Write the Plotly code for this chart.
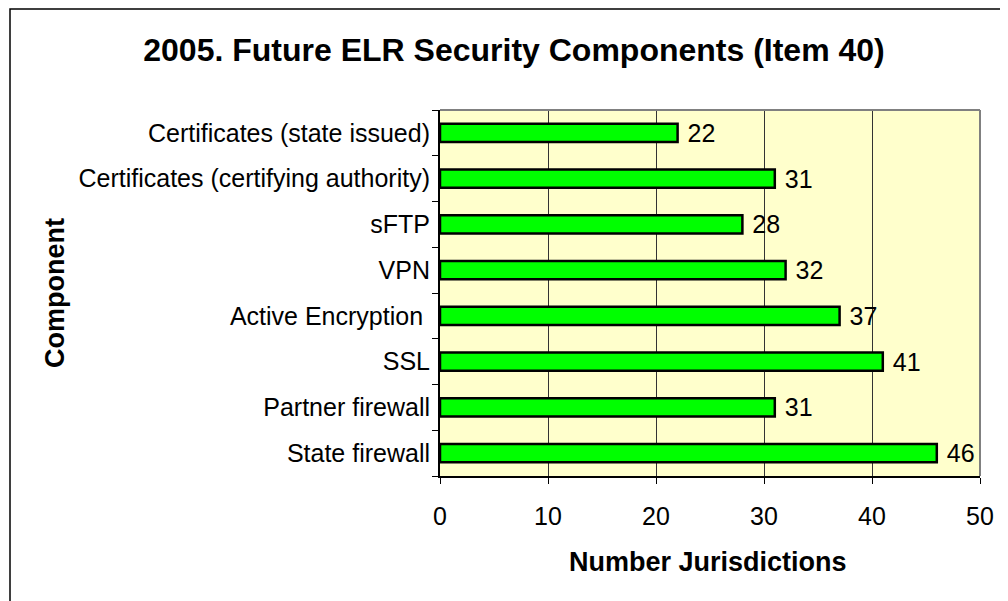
import plotly.graph_objects as go

components = ["State firewall", "Partner firewall", "SSL", "Active Encryption ",
              "VPN", "sFTP", "Certificates (certifying authority)", "Certificates (state issued)"]
jurisdictions = [46, 31, 41, 37, 32, 28, 31, 22]
x_ticks = [0, 10, 20, 30, 40, 50]

# page body has an 8px margin, so work in shifted pixel coords
OFF = 8
W, H = 1008 - OFF, 601 - OFF
L, R, T, B = 440 - OFF, 980 - OFF, 110 - OFF, 476 - OFF


def px_x(p):
    return (p - OFF - L) / (R - L)


def px_y(p):
    return (B - (p - OFF)) / (B - T)


fig = go.Figure(
    data=[go.Bar(y=components, x=jurisdictions, orientation="h",
                 marker=dict(color="#00FF00", line=dict(color="black", width=2.5)),
                 width=0.4, text=jurisdictions, texttemplate=" %{x}", textposition="outside",
                 constraintext="none",
                 textfont=dict(size=25, color="black"), cliponaxis=False)])

fig.update_layout(
    width=W, height=H,
    margin=dict(l=L, r=W - R, t=T, b=H - B),
    paper_bgcolor="white", plot_bgcolor="#FFFFCC",
    font=dict(family="Liberation Sans, Arial", color="black"),
    title=dict(text="<b>2005. Future ELR Security Components (Item 40)</b>",
               x=(514 - OFF) / W, xanchor="center", y=1 - (50 - OFF) / H, yanchor="middle",
               font=dict(size=32)),
    showlegend=False,
)
fig.update_xaxes(range=[0, 50], tickvals=x_ticks, ticks="outside", ticklen=6,
                 tickcolor="black", tickfont=dict(size=25), ticklabelstandoff=11,
                 showgrid=True, gridcolor="#333333", gridwidth=1,
                 showline=True, linecolor="black", linewidth=2, zeroline=False)
fig.update_yaxes(ticks="outside", tickson="boundaries", ticklen=6, tickcolor="black",
                 tickfont=dict(size=25), ticklabelstandoff=3, showgrid=False,
                 showline=True, linecolor="black", linewidth=2)

fig.add_annotation(text="<b>Number Jurisdictions</b>", xref="paper", yref="paper",
                   x=px_x(708), y=px_y(562), showarrow=False, font=dict(size=27),
                   xanchor="center", yanchor="middle")
fig.add_annotation(text="<b>Component</b>", xref="paper", yref="paper",
                   x=px_x(55), y=px_y(293), showarrow=False, font=dict(size=27),
                   textangle=-90, xanchor="center", yanchor="middle")

# gray top/right plot border
fig.add_shape(type="line", xref="paper", yref="paper", x0=0, x1=1, y0=1, y1=1,
              line=dict(color="#808080", width=2))
fig.add_shape(type="line", xref="paper", yref="paper", x0=1, x1=1, y0=0, y1=1,
              line=dict(color="#808080", width=2))
# chart area border
fig.add_shape(type="rect", xref="paper", yref="paper",
              x0=px_x(10), x1=px_x(1012), y0=px_y(605), y1=px_y(9),
              line=dict(color="black", width=1.5), layer="below")

fig.write_html("out.html")
